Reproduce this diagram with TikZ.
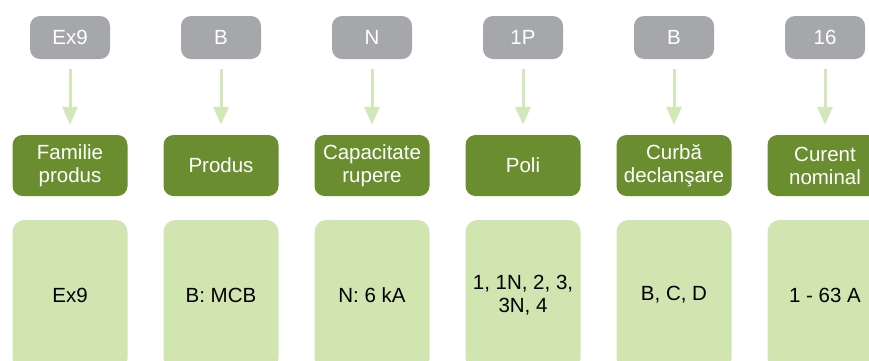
\documentclass[tikz,border=0pt]{standalone}
\usepackage{fontspec}
\setmainfont{Liberation Sans}
\usetikzlibrary{arrows.meta}
\definecolor{mygray}{RGB}{166,167,170}
\definecolor{mygreen}{RGB}{106,142,47}
\definecolor{mylightgreen}{RGB}{208,229,176}
\definecolor{myarrow}{RGB}{211,232,184}

\begin{document}
\begin{tikzpicture}[x=1pt, y=1pt,
    boxfont/.style={font=\fontsize{20.5}{23}\selectfont, align=center, inner sep=0pt},
    codebox/.style={boxfont, fill=mygray, text=white, rounded corners=10pt,
      minimum width=80pt, minimum height=43pt},
    namebox/.style={boxfont, fill=mygreen, text=white, rounded corners=10pt,
      minimum width=115pt, minimum height=61pt},
    valuebox/.style={boxfont, fill=mylightgreen, text=black, rounded corners=12pt,
      minimum width=115pt, minimum height=150pt},
    arrowline/.style={myarrow, line width=3pt, shorten <=10pt, shorten >=10pt,
      -{Triangle[width=15pt, length=18pt]}}]
  \useasboundingbox (0,0) rectangle (869,-360);
  \clip (0,0) rectangle (869,-360);
  \foreach \i/\x/\code/\name/\val in {
      1/70/Ex9/{Familie\\produs}/Ex9,
      2/221/B/Produs/{B: MCB},
      3/372/N/{Capacitate\\rupere}/{N: 6 kA},
      4/523/1P/Poli/{1, 1N, 2, 3,\\3N, 4},
      5/674/B/{Curbă\\declanşare}/{B, C, D},
      6/825/16/{Curent\\nominal}/{1 - 63 A}}
  {
    \node[codebox] (code\i) at (\x,-37.5) {\code};
    \node[namebox] (name\i) at (\x,-165.5) {\name};
    \node[valuebox] (val\i) at (\x,-295) {\val};
    \draw[arrowline] (code\i) -- (name\i);
  }
\end{tikzpicture}
\end{document}
